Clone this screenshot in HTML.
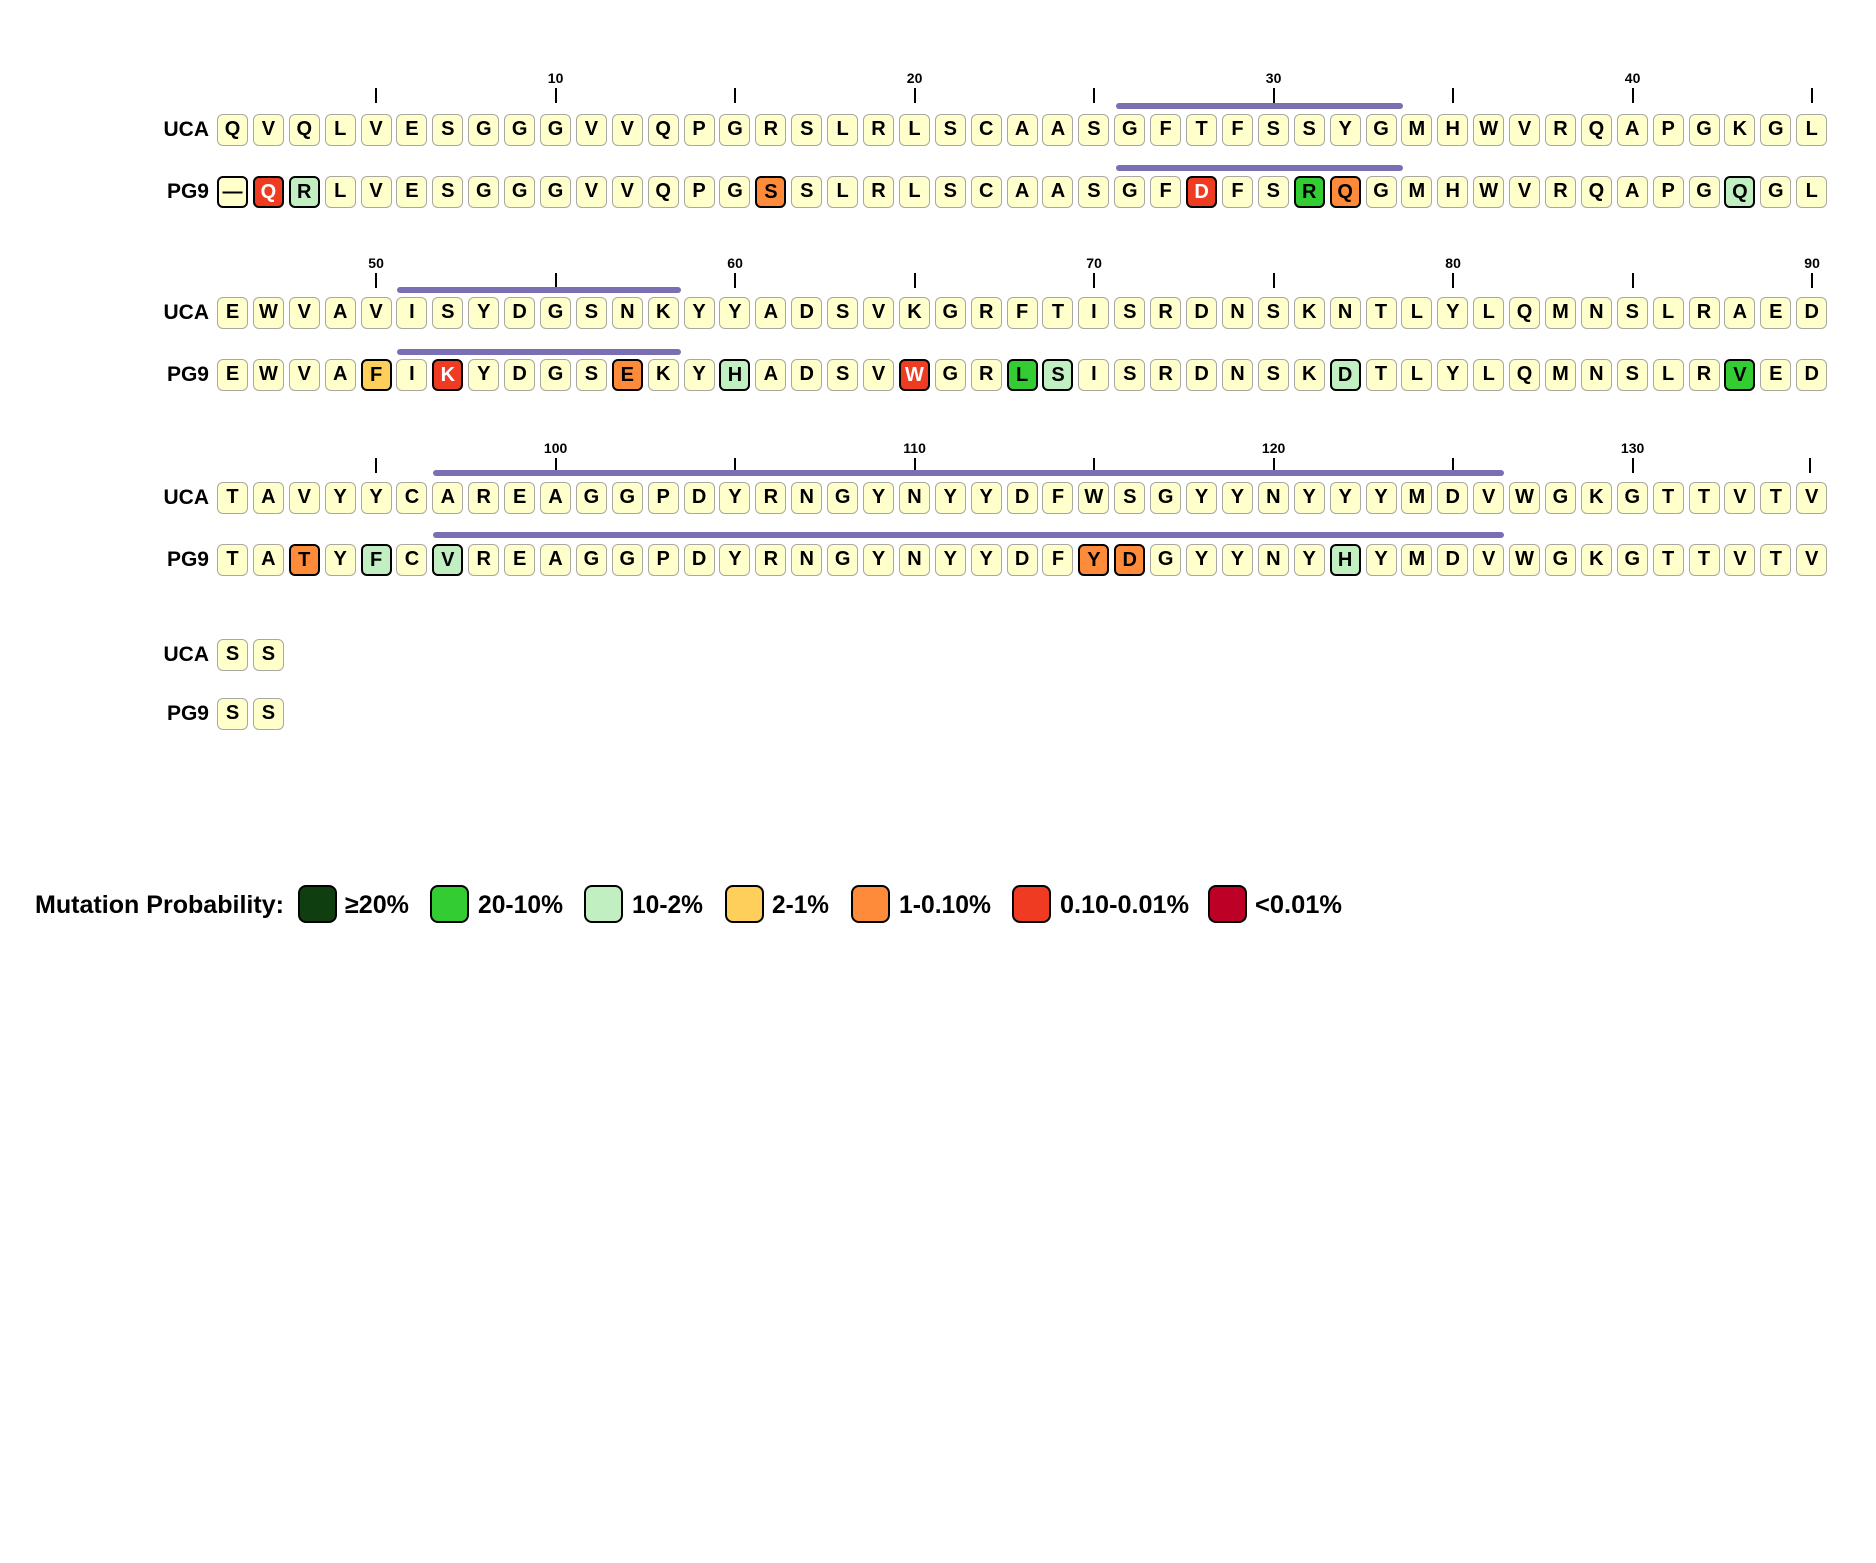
<!DOCTYPE html>
<html><head><meta charset="utf-8"><style>
body{margin:0;width:1876px;height:1563px;background:#fff;position:relative;overflow:hidden;font-family:"Liberation Sans",sans-serif;}
.row{position:absolute;left:217px;display:flex;height:32px;}
.row b{box-sizing:border-box;width:31px;height:32px;margin-right:4.9px;border:1.5px solid #a8a8a0;border-radius:6px;background:#ffffcc;font:bold 20px/29px "Liberation Sans",sans-serif;text-align:center;color:#000;}
.row b.m{border:2px solid #000;line-height:28px;}
.row b.lg{background:#c2efc2;}
.row b.g{background:#33cc33;}
.row b.y{background:#fecf5a;}
.row b.o{background:#fd8b3a;}
.row b.r{background:#ef3b22;color:#fff;}
.lab{position:absolute;right:1667px;font:bold 21px "Liberation Sans",sans-serif;line-height:32px;}
.tk{position:absolute;width:2px;height:15px;background:#000;}
.tl{position:absolute;width:40px;margin-left:-20px;text-align:center;font:bold 14px "Liberation Sans",sans-serif;}
.bar{position:absolute;height:6px;border-radius:3px;background:#7a6fb3;}
</style></head><body>

<!-- Block 1 -->
<div class="tl" style="left:555.6px;top:70px">10</div>
<div class="tl" style="left:914.6px;top:70px">20</div>
<div class="tl" style="left:1273.6px;top:70px">30</div>
<div class="tl" style="left:1632.6px;top:70px">40</div>
<div class="tk" style="left:375.1px;top:88px"></div><div class="tk" style="left:554.6px;top:88px"></div><div class="tk" style="left:734.1px;top:88px"></div><div class="tk" style="left:913.6px;top:88px"></div><div class="tk" style="left:1093.1px;top:88px"></div><div class="tk" style="left:1272.6px;top:88px"></div><div class="tk" style="left:1452.1px;top:88px"></div><div class="tk" style="left:1631.6px;top:88px"></div><div class="tk" style="left:1811.1px;top:88px"></div>
<div class="bar" style="left:1116px;width:287px;top:103px"></div>
<div class="bar" style="left:1116px;width:287px;top:165px"></div>
<div class="lab" style="top:114px">UCA</div>
<div class="row" style="top:114px"><b>Q</b><b>V</b><b>Q</b><b>L</b><b>V</b><b>E</b><b>S</b><b>G</b><b>G</b><b>G</b><b>V</b><b>V</b><b>Q</b><b>P</b><b>G</b><b>R</b><b>S</b><b>L</b><b>R</b><b>L</b><b>S</b><b>C</b><b>A</b><b>A</b><b>S</b><b>G</b><b>F</b><b>T</b><b>F</b><b>S</b><b>S</b><b>Y</b><b>G</b><b>M</b><b>H</b><b>W</b><b>V</b><b>R</b><b>Q</b><b>A</b><b>P</b><b>G</b><b>K</b><b>G</b><b>L</b></div>
<div class="lab" style="top:176px">PG9</div>
<div class="row" style="top:176px"><b class="m">—</b><b class="m r">Q</b><b class="m lg">R</b><b>L</b><b>V</b><b>E</b><b>S</b><b>G</b><b>G</b><b>G</b><b>V</b><b>V</b><b>Q</b><b>P</b><b>G</b><b class="m o">S</b><b>S</b><b>L</b><b>R</b><b>L</b><b>S</b><b>C</b><b>A</b><b>A</b><b>S</b><b>G</b><b>F</b><b class="m r">D</b><b>F</b><b>S</b><b class="m g">R</b><b class="m o">Q</b><b>G</b><b>M</b><b>H</b><b>W</b><b>V</b><b>R</b><b>Q</b><b>A</b><b>P</b><b>G</b><b class="m lg">Q</b><b>G</b><b>L</b></div>

<!-- Block 2 -->
<div class="tl" style="left:376.1px;top:255px">50</div>
<div class="tl" style="left:735.1px;top:255px">60</div>
<div class="tl" style="left:1094.1px;top:255px">70</div>
<div class="tl" style="left:1453.1px;top:255px">80</div>
<div class="tl" style="left:1812.1px;top:255px">90</div>
<div class="tk" style="left:375.1px;top:273px"></div><div class="tk" style="left:554.6px;top:273px"></div><div class="tk" style="left:734.1px;top:273px"></div><div class="tk" style="left:913.6px;top:273px"></div><div class="tk" style="left:1093.1px;top:273px"></div><div class="tk" style="left:1272.6px;top:273px"></div><div class="tk" style="left:1452.1px;top:273px"></div><div class="tk" style="left:1631.6px;top:273px"></div><div class="tk" style="left:1811.1px;top:273px"></div>
<div class="bar" style="left:397px;width:284px;top:287px"></div>
<div class="bar" style="left:397px;width:284px;top:349px"></div>
<div class="lab" style="top:297px">UCA</div>
<div class="row" style="top:297px"><b>E</b><b>W</b><b>V</b><b>A</b><b>V</b><b>I</b><b>S</b><b>Y</b><b>D</b><b>G</b><b>S</b><b>N</b><b>K</b><b>Y</b><b>Y</b><b>A</b><b>D</b><b>S</b><b>V</b><b>K</b><b>G</b><b>R</b><b>F</b><b>T</b><b>I</b><b>S</b><b>R</b><b>D</b><b>N</b><b>S</b><b>K</b><b>N</b><b>T</b><b>L</b><b>Y</b><b>L</b><b>Q</b><b>M</b><b>N</b><b>S</b><b>L</b><b>R</b><b>A</b><b>E</b><b>D</b></div>
<div class="lab" style="top:359px">PG9</div>
<div class="row" style="top:359px"><b>E</b><b>W</b><b>V</b><b>A</b><b class="m y">F</b><b>I</b><b class="m r">K</b><b>Y</b><b>D</b><b>G</b><b>S</b><b class="m o">E</b><b>K</b><b>Y</b><b class="m lg">H</b><b>A</b><b>D</b><b>S</b><b>V</b><b class="m r">W</b><b>G</b><b>R</b><b class="m g">L</b><b class="m lg">S</b><b>I</b><b>S</b><b>R</b><b>D</b><b>N</b><b>S</b><b>K</b><b class="m lg">D</b><b>T</b><b>L</b><b>Y</b><b>L</b><b>Q</b><b>M</b><b>N</b><b>S</b><b>L</b><b>R</b><b class="m g">V</b><b>E</b><b>D</b></div>

<!-- Block 3 -->
<div class="tl" style="left:555.6px;top:440px">100</div>
<div class="tl" style="left:914.6px;top:440px">110</div>
<div class="tl" style="left:1273.6px;top:440px">120</div>
<div class="tl" style="left:1632.6px;top:440px">130</div>
<div class="tk" style="left:375.1px;top:458px"></div><div class="tk" style="left:554.6px;top:458px"></div><div class="tk" style="left:734.1px;top:458px"></div><div class="tk" style="left:913.6px;top:458px"></div><div class="tk" style="left:1093.1px;top:458px"></div><div class="tk" style="left:1272.6px;top:458px"></div><div class="tk" style="left:1452.1px;top:458px"></div><div class="tk" style="left:1631.6px;top:458px"></div><div class="tk" style="left:1809px;top:458px"></div>
<div class="bar" style="left:433px;top:470px;width:1071px"></div>
<div class="bar" style="left:433px;top:532px;width:1071px"></div>
<div class="lab" style="top:482px">UCA</div>
<div class="row" style="top:482px"><b>T</b><b>A</b><b>V</b><b>Y</b><b>Y</b><b>C</b><b>A</b><b>R</b><b>E</b><b>A</b><b>G</b><b>G</b><b>P</b><b>D</b><b>Y</b><b>R</b><b>N</b><b>G</b><b>Y</b><b>N</b><b>Y</b><b>Y</b><b>D</b><b>F</b><b>W</b><b>S</b><b>G</b><b>Y</b><b>Y</b><b>N</b><b>Y</b><b>Y</b><b>Y</b><b>M</b><b>D</b><b>V</b><b>W</b><b>G</b><b>K</b><b>G</b><b>T</b><b>T</b><b>V</b><b>T</b><b>V</b></div>
<div class="lab" style="top:544px">PG9</div>
<div class="row" style="top:544px"><b>T</b><b>A</b><b class="m o">T</b><b>Y</b><b class="m lg">F</b><b>C</b><b class="m lg">V</b><b>R</b><b>E</b><b>A</b><b>G</b><b>G</b><b>P</b><b>D</b><b>Y</b><b>R</b><b>N</b><b>G</b><b>Y</b><b>N</b><b>Y</b><b>Y</b><b>D</b><b>F</b><b class="m o">Y</b><b class="m o">D</b><b>G</b><b>Y</b><b>Y</b><b>N</b><b>Y</b><b class="m lg">H</b><b>Y</b><b>M</b><b>D</b><b>V</b><b>W</b><b>G</b><b>K</b><b>G</b><b>T</b><b>T</b><b>V</b><b>T</b><b>V</b></div>

<!-- Block 4 -->
<div class="lab" style="top:639px">UCA</div>
<div class="row" style="top:639px"><b>S</b><b>S</b></div>
<div class="lab" style="top:698px">PG9</div>
<div class="row" style="top:698px"><b>S</b><b>S</b></div>

<!-- Legend -->
<svg style="position:absolute;left:0;top:0" width="1876" height="1563">
<g font-family="Liberation Sans, sans-serif" font-weight="bold" font-size="25" fill="#000">
<text x="35" y="913" textLength="249" lengthAdjust="spacingAndGlyphs">Mutation Probability:</text>
<rect x="299" y="886" width="37" height="36" rx="7" fill="#0f3f10" stroke="#000" stroke-width="2"/>
<text x="345" y="913" textLength="64" lengthAdjust="spacingAndGlyphs">≥20%</text>
<rect x="431" y="886" width="37" height="36" rx="7" fill="#33cc33" stroke="#000" stroke-width="2"/>
<text x="478" y="913" textLength="85" lengthAdjust="spacingAndGlyphs">20-10%</text>
<rect x="585" y="886" width="37" height="36" rx="7" fill="#c2efc2" stroke="#000" stroke-width="2"/>
<text x="632" y="913" textLength="71" lengthAdjust="spacingAndGlyphs">10-2%</text>
<rect x="726" y="886" width="37" height="36" rx="7" fill="#fecf5a" stroke="#000" stroke-width="2"/>
<text x="772" y="913" textLength="57" lengthAdjust="spacingAndGlyphs">2-1%</text>
<rect x="852" y="886" width="37" height="36" rx="7" fill="#fd8b3a" stroke="#000" stroke-width="2"/>
<text x="899" y="913" textLength="92" lengthAdjust="spacingAndGlyphs">1-0.10%</text>
<rect x="1013" y="886" width="37" height="36" rx="7" fill="#ef3b22" stroke="#000" stroke-width="2"/>
<text x="1060" y="913" textLength="129" lengthAdjust="spacingAndGlyphs">0.10-0.01%</text>
<rect x="1209" y="886" width="37" height="36" rx="7" fill="#bd0026" stroke="#000" stroke-width="2"/>
<text x="1255" y="913" textLength="87" lengthAdjust="spacingAndGlyphs">&lt;0.01%</text>
</g>
</svg>
</body></html>
